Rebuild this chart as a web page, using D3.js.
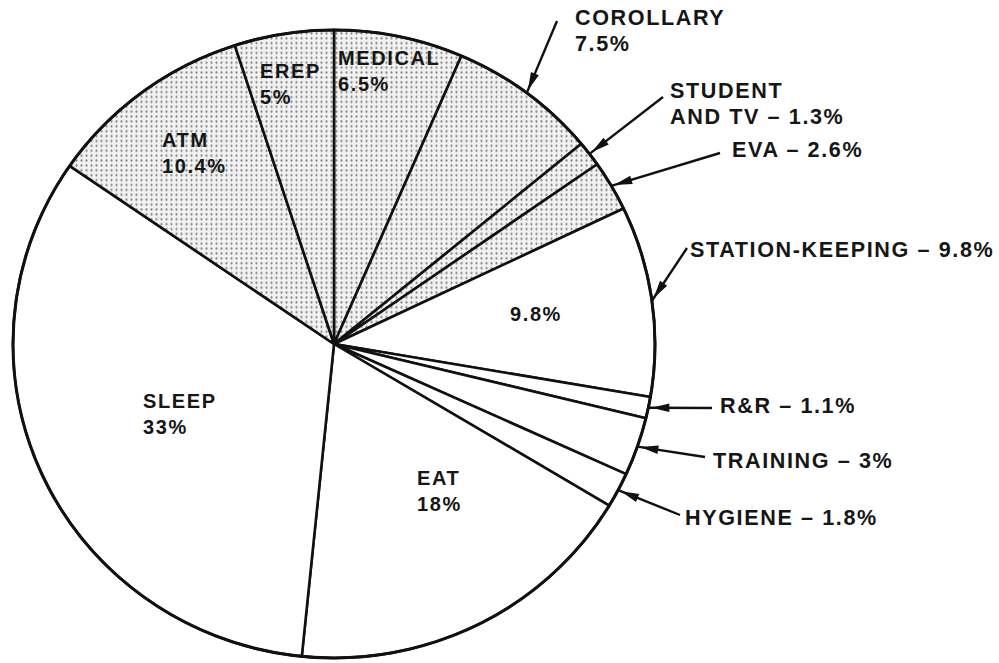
<!DOCTYPE html>
<html>
<head>
<meta charset="utf-8">
<script src="https://cdn.jsdelivr.net/npm/d3@7/dist/d3.min.js"></script>
<style>
  html, body { margin: 0; padding: 0; background: #fff; }
  svg { display: block; }
  text { font-family: "Liberation Sans", Arial, sans-serif; font-weight: bold; fill: #161616; }
</style>
</head>
<body>
<svg id="chart" width="999" height="663"></svg>
<script>
// Crew time allocation, clockwise from 12 o'clock
const categories = ["MEDICAL", "COROLLARY", "STUDENT AND TV", "EVA", "STATION-KEEPING",
                    "R&R", "TRAINING", "HYGIENE", "EAT", "SLEEP", "ATM", "EREP"];
const percents   = [6.5, 7.5, 1.3, 2.6, 9.8, 1.1, 3, 1.8, 18, 33, 10.4, 5];
// experiment-related activities are drawn with a dot screen
const shadedCategories = ["MEDICAL", "COROLLARY", "STUDENT AND TV", "EVA", "ATM", "EREP"];

// Label text lines
const insideLabels = {
  "MEDICAL": ["MEDICAL", "6.5%"],
  "EREP": ["EREP", "5%"],
  "ATM": ["ATM", "10.4%"],
  "SLEEP": ["SLEEP", "33%"],
  "EAT": ["EAT", "18%"],
  "STATION-KEEPING": ["9.8%"]
};
const calloutLabels = {
  "COROLLARY": ["COROLLARY", "7.5%"],
  "STUDENT AND TV": ["STUDENT", "AND TV \u2013 1.3%"],
  "EVA": ["EVA \u2013 2.6%"],
  "STATION-KEEPING": ["STATION-KEEPING \u2013 9.8%"],
  "R&R": ["R&R \u2013 1.1%"],
  "TRAINING": ["TRAINING \u2013 3%"],
  "HYGIENE": ["HYGIENE \u2013 1.8%"]
};

// ---- layout ----
const cx = 334, cy = 344, R = 321, sy = 314 / 321;
const lineH = 26;
const insidePos = {
  "MEDICAL": [338, 65], "EREP": [260, 78], "ATM": [162, 147],
  "SLEEP": [143, 408], "EAT": [417, 485], "STATION-KEEPING": [510, 321]
};
// text anchor (x, first baseline) and the tail of the leader arrow
const calloutPos = {
  "COROLLARY":       { text: [575, 25],  tail: [557, 21] },
  "STUDENT AND TV":  { text: [670, 98],  tail: [663, 97] },
  "EVA":             { text: [732, 157], tail: [720, 153] },
  "STATION-KEEPING": { text: [690, 257], tail: [687, 248] },
  "R&R":             { text: [720, 413], tail: [712, 408] },
  "TRAINING":        { text: [713, 468], tail: [705, 457] },
  "HYGIENE":         { text: [685, 525], tail: [680, 515] }
};

const svg = d3.select("#chart");

// dot screen fill
const defs = svg.append("defs");
const pat = defs.append("pattern")
  .attr("id", "dots").attr("patternUnits", "userSpaceOnUse")
  .attr("width", 5).attr("height", 5);
pat.append("rect").attr("width", 5).attr("height", 5).attr("fill", "#f2f2f2");
pat.append("circle").attr("cx", 2.5).attr("cy", 2.5).attr("r", 1.15).attr("fill", "#858585");

const data = categories.map((c, i) => ({ name: c, value: percents[i] }));
const pie = d3.pie().sort(null).value(d => d.value).startAngle(0).endAngle(2 * Math.PI);
const arcs = pie(data);
const arc = d3.arc().innerRadius(0).outerRadius(R);

const g = svg.append("g").attr("transform", `translate(${cx},${cy}) scale(1,${sy})`);

g.selectAll("path.slice")
  .data(arcs)
  .join("path")
  .attr("class", "slice")
  .attr("d", arc)
  .attr("fill", d => shadedCategories.includes(d.data.name) ? "url(#dots)" : "#fff")
  .attr("stroke", "#111")
  .attr("stroke-width", 2.6)
  .attr("stroke-linejoin", "round")
  .attr("vector-effect", "non-scaling-stroke");

// outer rim slightly heavier
g.append("ellipse").attr("rx", R).attr("ry", R)
  .attr("fill", "none").attr("stroke", "#111").attr("stroke-width", 3)
  .attr("vector-effect", "non-scaling-stroke");

function addLines(sel, x, y, lines, size, spacing) {
  const t = sel.append("text").attr("x", x).attr("y", y)
    .style("font-size", size + "px").style("letter-spacing", spacing + "px");
  lines.forEach((ln, i) => t.append("tspan").attr("x", x).attr("y", y + i * lineH).text(ln));
}

// inside labels
arcs.forEach(d => {
  const lines = insideLabels[d.data.name];
  if (!lines) return;
  const [x, y] = insidePos[d.data.name];
  addLines(svg, x, y, lines, 20, 1.6);
});

// callouts with arrows pointing at the rim at the slice's mid angle
const rimArc = d3.arc().innerRadius(R).outerRadius(R);
const ann = svg.append("g");
arcs.forEach(d => {
  const lines = calloutLabels[d.data.name];
  if (!lines) return;
  const pos = calloutPos[d.data.name];
  const c = rimArc.centroid(d);
  const tip = [cx + c[0], cy + c[1] * sy];
  const tail = pos.tail;
  ann.append("line")
    .attr("x1", tail[0]).attr("y1", tail[1])
    .attr("x2", tip[0]).attr("y2", tip[1])
    .attr("stroke", "#111").attr("stroke-width", 2.4);
  // arrowhead: narrow filled triangle just short of the rim
  const dx = tail[0] - tip[0], dy = tail[1] - tip[1];
  const len = Math.hypot(dx, dy), ux = dx / len, uy = dy / len;
  const nx = -uy, ny = ux;
  const a = 3, b = 21, w = 4.3;
  const p1 = [tip[0] + ux * a, tip[1] + uy * a];
  const p2 = [tip[0] + ux * b + nx * w, tip[1] + uy * b + ny * w];
  const p3 = [tip[0] + ux * b - nx * w, tip[1] + uy * b - ny * w];
  ann.append("path")
    .attr("d", d3.line()([p1, p2, p3]) + "Z")
    .attr("fill", "#111");
  const [x, y] = pos.text;
  addLines(ann, x, y, lines, 21.6, 1.6);
});
</script>
</body>
</html>
